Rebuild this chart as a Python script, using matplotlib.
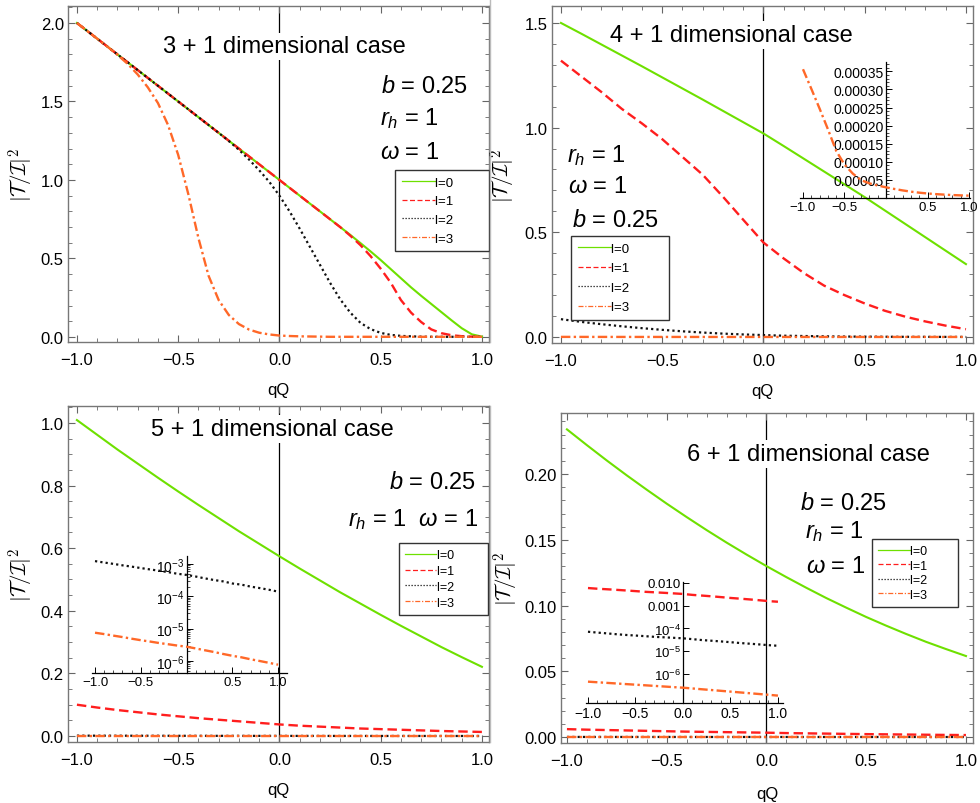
import matplotlib
matplotlib.use("Agg")
import matplotlib.pyplot as plt
import numpy as np
from matplotlib.lines import Line2D
from matplotlib.ticker import MultipleLocator, FixedLocator, FuncFormatter, LogLocator, NullFormatter

plt.rcParams['font.family'] = ['Liberation Sans', 'DejaVu Sans']
plt.rcParams['mathtext.fontset'] = 'custom'
plt.rcParams['mathtext.rm'] = 'Liberation Sans'
plt.rcParams['mathtext.it'] = 'Liberation Sans:italic'
plt.rcParams['mathtext.bf'] = 'Liberation Sans:bold'

# ---- data ----
# 3+1 case, qQ from -1 to 1 in steps of 0.05
q41 = np.linspace(-1, 1, 41)
l0_3 = [2.000, 1.950, 1.900, 1.850, 1.800, 1.750, 1.700, 1.650, 1.600, 1.550,
        1.500, 1.450, 1.400, 1.350, 1.300, 1.250, 1.200, 1.150, 1.100, 1.050,
        1.000, 0.950, 0.900, 0.850, 0.800, 0.750, 0.700, 0.650, 0.598, 0.545,
        0.490, 0.432, 0.374, 0.316, 0.262, 0.210, 0.158, 0.106, 0.056, 0.017, 0.002]
l1_3 = [2.000, 1.950, 1.900, 1.850, 1.800, 1.750, 1.700, 1.650, 1.600, 1.550,
        1.500, 1.450, 1.400, 1.350, 1.300, 1.250, 1.200, 1.150, 1.100, 1.050,
        1.000, 0.950, 0.900, 0.850, 0.800, 0.750, 0.700, 0.645, 0.585, 0.515,
        0.435, 0.345, 0.235, 0.155, 0.095, 0.048, 0.024, 0.011, 0.005, 0.002, 0.001]
l2_3 = [2.000, 1.950, 1.900, 1.850, 1.800, 1.750, 1.700, 1.650, 1.600, 1.550,
        1.500, 1.450, 1.400, 1.350, 1.300, 1.248, 1.192, 1.130, 1.062, 0.988,
        0.900, 0.800, 0.690, 0.575, 0.460, 0.345, 0.240, 0.155, 0.090, 0.050,
        0.026, 0.013, 0.007, 0.004, 0.002, 0.001, 0.001, 0.001, 0.001, 0.001, 0.001]
l3_3 = [2.000, 1.950, 1.900, 1.850, 1.797, 1.740, 1.672, 1.590, 1.490, 1.350,
        1.160, 0.910, 0.630, 0.390, 0.235, 0.140, 0.082, 0.047, 0.027, 0.016,
        0.009, 0.006, 0.004, 0.003, 0.002, 0.001, 0.001, 0.001, 0.001, 0.001,
        0.001, 0.001, 0.001, 0.001, 0.001, 0.001, 0.001, 0.001, 0.001, 0.001, 0.001]

# higher dimensions, qQ from -1 to 1 in steps of 0.1
q21 = np.linspace(-1, 1, 21)
l0_4 = [1.500, 1.449, 1.397, 1.345, 1.293, 1.240, 1.187, 1.134, 1.080, 1.026,
        0.972, 0.912, 0.851, 0.790, 0.729, 0.668, 0.604, 0.540, 0.476, 0.412, 0.348]
l1_4 = [1.320, 1.245, 1.170, 1.090, 1.020, 0.945, 0.860, 0.775, 0.670, 0.560,
        0.451, 0.375, 0.305, 0.245, 0.200, 0.160, 0.125, 0.097, 0.074, 0.054, 0.037]
l2_4 = [0.085, 0.072, 0.061, 0.051, 0.042, 0.034, 0.027, 0.021, 0.016, 0.012,
        0.009, 0.006, 0.0045, 0.003, 0.002, 0.0015, 0.001, 0.0007, 0.0005, 0.0003, 0.0002]
l3_4 = [3.56e-4, 3.02e-4, 2.47e-4, 1.90e-4, 1.30e-4, 9.2e-5, 6.7e-5, 4.9e-5, 4.0e-5, 3.4e-5,
        2.9e-5, 2.45e-5, 2.05e-5, 1.7e-5, 1.42e-5, 1.2e-5, 1.02e-5, 8.8e-6, 7.6e-6, 6.7e-6, 6.0e-6]

l0_5 = [1.009, 0.962, 0.915, 0.870, 0.825, 0.781, 0.738, 0.696, 0.654, 0.614,
        0.574, 0.535, 0.497, 0.459, 0.423, 0.387, 0.352, 0.318, 0.284, 0.252, 0.221]
l1_5 = [0.100, 0.091, 0.083, 0.076, 0.069, 0.063, 0.057, 0.052, 0.047, 0.042,
        0.037, 0.033, 0.030, 0.027, 0.024, 0.022, 0.020, 0.018, 0.016, 0.0145, 0.013]
l2_5 = [1.23e-3, 1.11e-3, 1.01e-3, 9.1e-4, 8.3e-4, 7.5e-4, 6.8e-4, 6.2e-4, 5.6e-4, 5.0e-4,
        4.6e-4, 4.1e-4, 3.6e-4, 3.2e-4, 2.9e-4, 2.5e-4, 2.3e-4, 2.0e-4, 1.8e-4, 1.6e-4, 1.4e-4]
l3_5 = [7.5e-6, 6.8e-6, 6.1e-6, 5.5e-6, 4.9e-6, 4.4e-6, 4.0e-6, 3.6e-6, 3.3e-6, 3.0e-6,
        2.77e-6, 2.45e-6, 2.15e-6, 1.9e-6, 1.65e-6, 1.45e-6, 1.3e-6, 1.13e-6, 1.0e-6, 0.88e-6, 0.77e-6]

l0_6 = [0.2340, 0.2220, 0.2103, 0.1990, 0.1881, 0.1775, 0.1673, 0.1574, 0.1479, 0.1388,
        0.1300, 0.1216, 0.1135, 0.1057, 0.0984, 0.0913, 0.0847, 0.0784, 0.0724, 0.0669, 0.0616]
l1_6 = [6.0e-3, 5.6e-3, 5.3e-3, 5.0e-3, 4.7e-3, 4.4e-3, 4.1e-3, 3.9e-3, 3.7e-3, 3.5e-3,
        3.3e-3, 3.0e-3, 2.8e-3, 2.6e-3, 2.4e-3, 2.2e-3, 2.05e-3, 1.9e-3, 1.75e-3, 1.6e-3, 1.5e-3]
l2_6 = [7.2e-5, 6.6e-5, 6.1e-5, 5.6e-5, 5.2e-5, 4.9e-5, 4.6e-5, 4.3e-5, 4.1e-5, 3.9e-5,
        3.7e-5, 3.4e-5, 3.1e-5, 2.9e-5, 2.7e-5, 2.5e-5, 2.3e-5, 2.15e-5, 2.0e-5, 1.85e-5, 1.74e-5]
l3_6 = [4.6e-7, 4.33e-7, 4.07e-7, 3.83e-7, 3.6e-7, 3.39e-7, 3.19e-7, 3.0e-7, 2.82e-7, 2.65e-7,
        2.5e-7, 2.31e-7, 2.13e-7, 1.97e-7, 1.82e-7, 1.68e-7, 1.55e-7, 1.43e-7, 1.32e-7, 1.22e-7, 1.12e-7]

labels = ["l=0", "l=1", "l=2", "l=3"]

GREEN = "#6ee000"
RED = "#ff1e1e"
BLACK = "#111111"
ORANGE = "#ff6828"
styles = [
    dict(color=GREEN, lw=1.5, ls="-"),
    dict(color=RED, lw=1.7, ls=(0, (4, 2))),
    dict(color=BLACK, lw=1.6, ls=(0, (1, 1.4))),
    dict(color=ORANGE, lw=1.7, ls=(0, (4, 1.4, 1, 1.4))),
]

minus = lambda fmt: FuncFormatter(lambda v, p: (fmt % v).replace("-", "\u2212"))


def style_main(ax, xlim, ylim, ymaj, ymin, yfmt):
    ax.set_xlim(*xlim)
    ax.set_ylim(*ylim)
    ax.xaxis.set_major_locator(MultipleLocator(0.5))
    ax.xaxis.set_minor_locator(MultipleLocator(0.1))
    ax.yaxis.set_major_locator(MultipleLocator(ymaj))
    ax.yaxis.set_minor_locator(MultipleLocator(ymin))
    ax.xaxis.set_major_formatter(minus("%.1f"))
    ax.yaxis.set_major_formatter(minus(yfmt))
    ax.tick_params(which="both", direction="in", top=True, right=True,
                   color="#666666", labelcolor="black", labelsize=12)
    ax.tick_params(which="major", length=5, width=0.8)
    ax.tick_params(which="minor", length=2.8, width=0.6)
    ax.tick_params(axis="x", pad=7)
    ax.tick_params(axis="y", pad=3)
    for s in ax.spines.values():
        s.set_color("#777777")
        s.set_linewidth(1.0)
    ax.axvline(0, color="black", lw=0.9, zorder=1)


def labels_main(ax, ylx, xly):
    ax.set_xlabel("qQ", fontsize=12)
    ax.xaxis.set_label_coords(0.5, xly)
    ax.set_ylabel(r"$|\mathcal{T}/\mathcal{I}|^2$", fontsize=15, math_fontfamily="cm")
    ax.yaxis.set_label_coords(ylx, 0.5)


def add_legend(ax, x, y, fs, spacing, npad):
    handles, labs = ax.get_legend_handles_labels()
    labs = [s + " " * npad for s in labs]
    leg = ax.legend(handles, labs, loc="upper left", bbox_to_anchor=(x, y), borderaxespad=0,
                    fontsize=fs, frameon=True, fancybox=False, framealpha=1,
                    edgecolor="#333333", handlelength=2.5, handletextpad=0.05,
                    labelspacing=spacing, borderpad=0.5)
    leg.get_frame().set_linewidth(1.0)
    for h in leg.get_lines():
        h.set_linewidth(0.9)
    leg.set_zorder(5)
    return leg


def title(ax, x, y, s):
    ax.text(x, y, s, transform=ax.transAxes, ha="center", va="baseline",
            fontsize=17, zorder=2, bbox=dict(fc="white", ec="none", pad=2))


def ptext(ax, x, y, s, ha="left"):
    ax.text(x, y, s, transform=ax.transAxes, ha=ha, va="baseline", fontsize=17, zorder=4)


def style_inset(ax, xlim, fs_x, fs_y, zero_label=False):
    ax.set_facecolor("none")
    ax.set_xlim(*xlim)
    for k in ("top", "right"):
        ax.spines[k].set_visible(False)
    ax.spines["left"].set_position(("data", 0))
    ax.spines["left"].set_linewidth(0.9)
    ax.spines["bottom"].set_linewidth(0.9)
    if zero_label:
        ax.xaxis.set_major_locator(FixedLocator([-1, -0.5, 0, 0.5, 1]))
    else:
        ax.xaxis.set_major_locator(FixedLocator([-1, -0.5, 0.5, 1]))
    ax.xaxis.set_minor_locator(MultipleLocator(0.1))
    ax.xaxis.set_major_formatter(minus("%.1f"))
    ax.tick_params(which="both", direction="in")
    ax.tick_params(which="major", length=4.5, width=0.7)
    ax.tick_params(which="minor", length=2.3, width=0.5)
    ax.tick_params(axis="x", labelsize=fs_x, pad=2)
    ax.tick_params(axis="y", labelsize=fs_y, pad=1.5)


fig = plt.figure(figsize=(9.8, 8.04), dpi=100)

# --- 3+1 ---
ax1 = fig.add_axes([0.0694, 0.5734, 0.4296, 0.4179])
for ys, st, lb in zip([l0_3, l1_3, l2_3, l3_3], styles, labels):
    ax1.plot(q41, ys, label=lb, zorder=3, **st)
style_main(ax1, (-1.044, 1.035), (-0.032, 2.108), 0.5, 0.1, "%.1f")
labels_main(ax1, -0.077, -0.119)
title(ax1, 0.515, 0.862, "3 + 1 dimensional case")
ptext(ax1, 0.743, 0.745, r"$b$ = 0.25")
ptext(ax1, 0.741, 0.649, r"$r_h$ = 1")
ptext(ax1, 0.741, 0.547, r"$\omega$ = 1")
add_legend(ax1, 0.777, 0.512, 9.5, 0.48, 8)

# --- 4+1 ---
ax2 = fig.add_axes([0.5633, 0.5721, 0.4296, 0.4192])
for ys, st, lb in zip([l0_4, l1_4, l2_4, l3_4], styles, labels):
    ax2.plot(q21, ys, label=lb, zorder=3, **st)
style_main(ax2, (-1.044, 1.035), (-0.029, 1.581), 0.5, 0.1, "%.1f")
labels_main(ax2, -0.081, -0.119)
title(ax2, 0.425, 0.897, "4 + 1 dimensional case")
ptext(ax2, 0.035, 0.541, r"$r_h$ = 1")
ptext(ax2, 0.039, 0.447, r"$\omega$ = 1")
ptext(ax2, 0.048, 0.348, r"$b$ = 0.25")
add_legend(ax2, 0.045, 0.3175, 9.5, 0.55, 9)

in2 = fig.add_axes([800 / 980, (804 - 198.8) / 804, 170 / 980, 135.8 / 804])
in2.plot(q21, l3_4, zorder=3, **styles[3])
style_inset(in2, (-1.036, 1.012), 9.5, 10)
in2.set_ylim(0, 0.000376)
in2.yaxis.set_major_locator(FixedLocator([0.00005 * i for i in range(1, 8)]))
in2.yaxis.set_minor_locator(MultipleLocator(0.00001))
in2.yaxis.set_major_formatter(FuncFormatter(lambda v, p: "%.5f" % v))

# --- 5+1 ---
ax3 = fig.add_axes([0.0694, 0.0759, 0.4296, 0.4179])
for ys, st, lb in zip([l0_5, l1_5, l2_5, l3_5], styles, labels):
    ax3.plot(q21, ys, label=lb, zorder=3, **st)
style_main(ax3, (-1.044, 1.035), (-0.019, 1.054), 0.2, 0.05, "%.1f")
labels_main(ax3, -0.077, -0.119)
title(ax3, 0.486, 0.914, "5 + 1 dimensional case")
ptext(ax3, 0.969, 0.755, r"$b$ = 0.25", ha="right")
ptext(ax3, 0.975, 0.644, r"$r_h$ = 1  $\omega$ = 1", ha="right")
add_legend(ax3, 0.786, 0.592, 9, 0.3, 8)

in3 = fig.add_axes([92 / 980, (804 - 674) / 804, 195 / 980, 117.3 / 804])
in3.set_yscale("log")
in3.plot(q21, l2_5, zorder=3, **styles[2])
in3.plot(q21, l3_5, zorder=3, **styles[3])
style_inset(in3, (-1.033, 1.098), 9.5, 10)
in3.set_ylim(10 ** -6.371, 10 ** -2.743)
in3.yaxis.set_major_locator(FixedLocator([1e-6, 1e-5, 1e-4, 1e-3]))
in3.yaxis.set_major_formatter(FuncFormatter(lambda v, p: r"$10^{%d}$" % round(np.log10(v))))
in3.yaxis.set_minor_locator(LogLocator(base=10, subs=np.arange(2, 10)))
in3.yaxis.set_minor_formatter(NullFormatter())

# --- 6+1 ---
ax4 = fig.add_axes([0.5724, 0.0746, 0.4204, 0.4104])
for ys, st, lb in zip([l0_6, l1_6, l2_6, l3_6], styles, labels):
    ax4.plot(q21, ys, label=lb, zorder=3, **st)
style_main(ax4, (-1.030, 1.035), (-0.00456, 0.2464), 0.05, 0.01, "%.2f")
labels_main(ax4, -0.097, -0.129)
title(ax4, 0.600, 0.858, "6 + 1 dimensional case")
ptext(ax4, 0.580, 0.709, r"$b$ = 0.25")
ptext(ax4, 0.592, 0.623, r"$r_h$ = 1")
ptext(ax4, 0.594, 0.517, r"$\omega$ = 1")
add_legend(ax4, 0.755, 0.618, 9, 0.2, 7)

in4 = fig.add_axes([585.7 / 980, (804 - 704) / 804, 197 / 980, 121.3 / 804])
in4.set_yscale("log")
in4.plot(q21, l1_6, zorder=3, **styles[1])
in4.plot(q21, l2_6, zorder=3, **styles[2])
in4.plot(q21, l3_6, zorder=3, **styles[3])
style_inset(in4, (-1.024, 1.05), 10, 9.5, zero_label=True)
in4.set_ylim(10 ** -7.275, 10 ** -1.943)
in4.yaxis.set_major_locator(FixedLocator([1e-6, 1e-5, 1e-4, 1e-3, 1e-2]))
in4.yaxis.set_major_formatter(FuncFormatter(
    lambda v, p: {-2: "0.010", -3: "0.001"}.get(round(np.log10(v)), r"$10^{%d}$" % round(np.log10(v)))))
in4.yaxis.set_minor_locator(LogLocator(base=10, subs=np.arange(2, 10)))
in4.yaxis.set_minor_formatter(NullFormatter())

# thin panel borders seen in the picture
fig.add_artist(Line2D([490 / 980, 490 / 980], [1 - 343 / 804, 1], color="#bbbbbb", lw=1))
fig.add_artist(Line2D([490 / 980, 490 / 980], [1 - 743 / 804, 1 - 407 / 804], color="#bbbbbb", lw=1))

fig.savefig("out.png", dpi=100)
